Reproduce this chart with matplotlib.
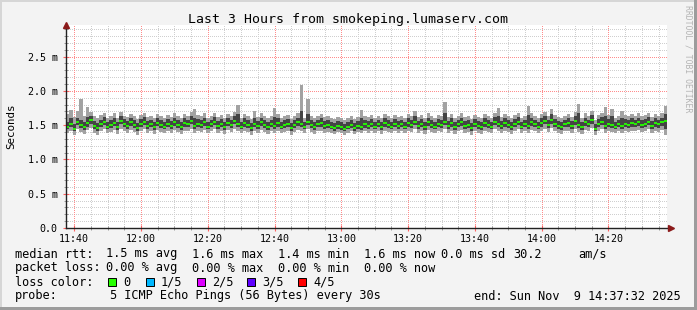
import numpy as np
import matplotlib
matplotlib.use("Agg")
import matplotlib.pyplot as plt
from matplotlib.patches import Rectangle

# ---------------- data (ms) ----------------
start_min = 37.533          # minutes after 11:00  (11:37:32)
step_min = 1.0              # one sample per minute

median_rtt = [
 1.48,1.52,1.45,1.55,1.50,1.47,1.53,1.58,1.49,1.46,
 1.51,1.55,1.48,1.50,1.53,1.47,1.56,1.52,1.49,1.54,
 1.50,1.46,1.52,1.55,1.49,1.51,1.47,1.53,1.50,1.48,
 1.52,1.49,1.54,1.50,1.47,1.53,1.51,1.56,1.49,1.52,
 1.50,1.54,1.48,1.51,1.55,1.49,1.52,1.47,1.53,1.50,
 1.56,1.51,1.48,1.53,1.50,1.46,1.52,1.49,1.54,1.50,
 1.47,1.51,1.49,1.53,1.48,1.50,1.52,1.46,1.50,1.54,
 1.52,1.48,1.55,1.50,1.47,1.51,1.53,1.49,1.50,1.48,
 1.46,1.49,1.47,1.45,1.48,1.50,1.46,1.49,1.47,1.51,
 1.49,1.52,1.48,1.51,1.47,1.53,1.50,1.48,1.52,1.49,
 1.51,1.48,1.53,1.50,1.55,1.49,1.52,1.47,1.54,1.50,
 1.48,1.52,1.50,1.55,1.49,1.53,1.47,1.51,1.54,1.49,
 1.50,1.46,1.52,1.49,1.47,1.53,1.50,1.48,1.55,1.51,
 1.49,1.53,1.50,1.47,1.52,1.55,1.48,1.51,1.49,1.54,
 1.51,1.48,1.53,1.56,1.50,1.58,1.52,1.49,1.47,1.51,
 1.53,1.49,1.56,1.50,1.47,1.54,1.51,1.58,1.45,1.52,
 1.55,1.49,1.52,1.50,1.48,1.51,1.49,1.52,1.50,1.53,
 1.51,1.54,1.50,1.52,1.55,1.49,1.53,1.51,1.54,1.56]

ping_max = [
 1.66,1.72,1.62,1.70,1.88,1.64,1.76,1.69,1.63,1.60,
 1.65,1.68,1.61,1.63,1.67,1.60,1.69,1.64,1.62,1.66,
 1.63,1.59,1.65,1.68,1.62,1.64,1.60,1.66,1.63,1.61,
 1.65,1.62,1.67,1.63,1.60,1.66,1.64,1.69,1.73,1.65,
 1.63,1.67,1.61,1.64,1.68,1.62,1.65,1.60,1.66,1.63,
 1.69,1.79,1.61,1.66,1.63,1.59,1.70,1.62,1.67,1.63,
 1.60,1.64,1.75,1.66,1.61,1.63,1.65,1.59,1.63,1.67,
 2.08,1.61,1.88,1.63,1.60,1.64,1.66,1.62,1.63,1.61,
 1.59,1.62,1.60,1.58,1.61,1.63,1.59,1.62,1.72,1.64,
 1.62,1.65,1.61,1.64,1.60,1.66,1.63,1.61,1.65,1.62,
 1.64,1.61,1.66,1.63,1.71,1.62,1.65,1.60,1.67,1.63,
 1.61,1.65,1.63,1.84,1.62,1.66,1.60,1.64,1.67,1.62,
 1.63,1.59,1.65,1.62,1.60,1.66,1.63,1.61,1.68,1.75,
 1.62,1.66,1.63,1.60,1.65,1.68,1.61,1.64,1.78,1.67,
 1.64,1.61,1.66,1.69,1.63,1.74,1.65,1.62,1.60,1.64,
 1.66,1.62,1.69,1.81,1.60,1.67,1.64,1.71,1.58,1.65,
 1.68,1.76,1.65,1.73,1.61,1.64,1.70,1.65,1.63,1.66,
 1.64,1.67,1.63,1.65,1.68,1.62,1.66,1.64,1.67,1.78]

ping_min = [
 1.38,1.42,1.35,1.44,1.40,1.37,1.43,1.46,1.39,1.36,
 1.41,1.44,1.38,1.40,1.43,1.37,1.45,1.42,1.39,1.43,
 1.40,1.36,1.42,1.44,1.39,1.41,1.37,1.43,1.40,1.38,
 1.42,1.39,1.43,1.40,1.37,1.42,1.41,1.45,1.39,1.41,
 1.40,1.43,1.38,1.41,1.44,1.39,1.42,1.37,1.43,1.40,
 1.44,1.41,1.38,1.42,1.40,1.36,1.42,1.39,1.43,1.40,
 1.37,1.41,1.39,1.42,1.38,1.40,1.42,1.36,1.40,1.43,
 1.42,1.38,1.44,1.40,1.37,1.41,1.42,1.39,1.40,1.38,
 1.37,1.40,1.38,1.36,1.39,1.41,1.37,1.40,1.38,1.41,
 1.39,1.42,1.38,1.41,1.37,1.42,1.40,1.38,1.42,1.39,
 1.41,1.38,1.42,1.40,1.44,1.39,1.42,1.37,1.43,1.40,
 1.38,1.42,1.40,1.44,1.39,1.42,1.37,1.41,1.43,1.39,
 1.40,1.36,1.42,1.39,1.37,1.42,1.40,1.38,1.44,1.41,
 1.39,1.42,1.40,1.37,1.41,1.44,1.38,1.41,1.39,1.43,
 1.41,1.38,1.42,1.45,1.40,1.46,1.41,1.39,1.37,1.41,
 1.42,1.39,1.44,1.40,1.37,1.43,1.41,1.46,1.35,1.41,
 1.44,1.39,1.41,1.40,1.38,1.41,1.39,1.42,1.40,1.42,
 1.41,1.43,1.40,1.41,1.44,1.39,1.42,1.40,1.43,1.35]

ping_lo = [
 1.44,1.47,1.41,1.50,1.46,1.43,1.48,1.52,1.45,1.42,
 1.47,1.50,1.44,1.46,1.49,1.43,1.51,1.48,1.45,1.49,
 1.46,1.42,1.48,1.50,1.45,1.47,1.43,1.49,1.46,1.44,
 1.48,1.45,1.49,1.46,1.43,1.48,1.47,1.51,1.45,1.47,
 1.46,1.49,1.44,1.47,1.50,1.45,1.48,1.43,1.49,1.46,
 1.51,1.47,1.44,1.48,1.46,1.42,1.48,1.45,1.49,1.46,
 1.43,1.47,1.45,1.48,1.44,1.46,1.48,1.42,1.46,1.49,
 1.48,1.44,1.50,1.46,1.43,1.47,1.48,1.45,1.46,1.44,
 1.42,1.45,1.43,1.41,1.44,1.46,1.42,1.45,1.43,1.46,
 1.45,1.48,1.44,1.47,1.43,1.48,1.46,1.44,1.48,1.45,
 1.47,1.44,1.48,1.46,1.50,1.45,1.48,1.43,1.49,1.46,
 1.44,1.48,1.46,1.50,1.45,1.48,1.43,1.47,1.49,1.45,
 1.46,1.42,1.48,1.45,1.43,1.48,1.46,1.44,1.50,1.47,
 1.45,1.48,1.46,1.43,1.47,1.50,1.44,1.47,1.45,1.49,
 1.47,1.44,1.48,1.51,1.46,1.52,1.47,1.45,1.43,1.47,
 1.48,1.45,1.50,1.46,1.43,1.49,1.47,1.52,1.41,1.47,
 1.50,1.45,1.47,1.46,1.44,1.47,1.45,1.48,1.46,1.48,
 1.47,1.49,1.46,1.47,1.50,1.45,1.48,1.46,1.49,1.45]

ping_hi = [
 1.55,1.60,1.52,1.61,1.58,1.54,1.62,1.64,1.56,1.53,
 1.58,1.62,1.55,1.57,1.60,1.54,1.63,1.59,1.56,1.61,
 1.57,1.53,1.59,1.62,1.56,1.58,1.54,1.60,1.57,1.55,
 1.59,1.56,1.61,1.57,1.54,1.60,1.58,1.63,1.60,1.59,
 1.57,1.61,1.55,1.58,1.62,1.56,1.59,1.54,1.60,1.57,
 1.63,1.66,1.55,1.60,1.57,1.53,1.61,1.56,1.61,1.57,
 1.54,1.58,1.62,1.60,1.55,1.57,1.59,1.53,1.57,1.61,
 1.70,1.55,1.66,1.57,1.54,1.58,1.60,1.56,1.57,1.55,
 1.53,1.56,1.54,1.52,1.55,1.57,1.53,1.56,1.60,1.58,
 1.56,1.59,1.55,1.58,1.54,1.60,1.57,1.55,1.59,1.56,
 1.58,1.55,1.60,1.57,1.63,1.56,1.59,1.54,1.61,1.57,
 1.55,1.59,1.57,1.68,1.56,1.60,1.54,1.58,1.61,1.56,
 1.57,1.53,1.59,1.56,1.54,1.60,1.57,1.55,1.62,1.63,
 1.56,1.60,1.57,1.54,1.59,1.62,1.55,1.58,1.65,1.61,
 1.58,1.55,1.60,1.63,1.57,1.66,1.59,1.56,1.54,1.58,
 1.60,1.56,1.63,1.67,1.54,1.61,1.58,1.65,1.52,1.59,
 1.62,1.64,1.59,1.63,1.55,1.58,1.61,1.59,1.57,1.60,
 1.58,1.61,1.57,1.59,1.62,1.56,1.60,1.58,1.61,1.66]

xtick_pos = [40, 60, 80, 100, 120, 140, 160, 180, 200]
xtick_labels = ["11:40", "12:00", "12:20", "12:40", "13:00", "13:20", "13:40", "14:00", "14:20"]
ytick_pos = [0.0, 0.5, 1.0, 1.5, 2.0, 2.5]
ytick_labels = ["0.0", "0.5 m", "1.0 m", "1.5 m", "2.0 m", "2.5 m"]

loss_labels = ["0", "1/5", "2/5", "3/5", "4/5"]
loss_colors = ["#26ff00", "#00b8ff", "#dd00ff", "#5e00ff", "#ff0000"]

title = "Last 3 Hours from smokeping.lumaserv.com"
rtt_parts = ["median rtt:", "1.5 ms avg", "1.6 ms max", "1.4 ms min", "1.6 ms now",
             "0.0 ms sd", "30.2", "am/s"]
loss_parts = ["packet loss:", "0.00 % avg", "0.00 % max", "0.00 % min", "0.00 % now"]
probe_parts = ["probe:", "5 ICMP Echo Pings (56 Bytes) every 30s"]
end_text = "end: Sun Nov  9 14:37:32 2025"

# ---------------- figure ----------------
W, H = 697, 310
MONO = "DejaVu Sans Mono"
fig = plt.figure(figsize=(W / 100, H / 100), dpi=100)
fig.patch.set_facecolor("#f3f3f3")

def fx(px):
    return px / W

def fy(py):
    return 1 - py / H

# 3D border
fig.add_artist(Rectangle((0, fy(2)), 1, 2 / H, transform=fig.transFigure, color="#d6d6d6", lw=0))
fig.add_artist(Rectangle((0, 0), 2 / W, 1, transform=fig.transFigure, color="#d6d6d6", lw=0))
fig.add_artist(Rectangle((0, 0), 1, 3 / H, transform=fig.transFigure, color="#9c9c9c", lw=0))
fig.add_artist(Rectangle((fx(694), 0), 3 / W, 1, transform=fig.transFigure, color="#9c9c9c", lw=0))

ax_l, ax_r, ax_t, ax_b = 66, 667, 25, 228
ax = fig.add_axes([fx(ax_l), fy(ax_b), fx(ax_r - ax_l), (ax_b - ax_t) / H])
ax.set_facecolor("white")

n = len(median_rtt)
edges = start_min + step_min * np.arange(n + 1)
ax.set_xlim(edges[0], edges[-1])
ax.set_ylim(0, 2.96)

# grid (dotted, crisp)
DOT = (0, (1, 2))
minor_x = np.arange(40, 218, 5)
for xv in minor_x:
    major = (xv % 20 == 0)
    ax.axvline(xv, color="#ff8c8c" if major else "#cfcfcf", lw=0.72, ls=DOT,
               antialiased=False, zorder=0.5 if major else 0.4)
minor_y = np.arange(0.1, 2.95, 0.1)
for yv in minor_y:
    major = abs(yv / 0.5 - round(yv / 0.5)) < 1e-6
    ax.axhline(yv, color="#ff8c8c" if major else "#cfcfcf", lw=0.72, ls=DOT,
               antialiased=False, zorder=0.5 if major else 0.4)

# smoke
ax.stairs(ping_max, edges, baseline=ping_min, fill=True, color="#a2a2a2", lw=0, zorder=2)
ax.stairs(ping_hi, edges, baseline=ping_lo, fill=True, color="#444444", lw=0, zorder=3)
# median (loss colour)
ax.hlines(median_rtt, edges[:-1], edges[1:], colors=loss_colors[0], lw=1.3, zorder=4)

# axes
for s in ["top", "right"]:
    ax.spines[s].set_visible(False)
for s in ["left", "bottom"]:
    ax.spines[s].set_color("#222222")
    ax.spines[s].set_linewidth(1.0)
    ax.spines[s].set_zorder(6)

ax.set_xticks(xtick_pos)
ax.set_xticklabels(xtick_labels)
ax.set_xticks(minor_x, minor=True)
ax.set_yticks(ytick_pos)
ax.set_yticklabels(ytick_labels)
ax.set_yticks(minor_y, minor=True)
ax.tick_params(axis="both", which="major", direction="inout", length=4, width=0.8,
               color="#ff6060", labelsize=7.2, labelfontfamily=MONO)
ax.tick_params(axis="both", which="minor", direction="inout", length=2.5, width=0.7,
               color="#999999")
ax.tick_params(axis="x", pad=2)
ax.tick_params(axis="y", pad=4)

# arrows
ax.plot([0], [1.0], marker="^", color="#8b1a1a", ms=4.5, transform=ax.transAxes,
        clip_on=False, zorder=7)
ax.plot([1.006], [0.0], marker=">", color="#8b1a1a", ms=4.5, transform=ax.transAxes,
        clip_on=False, zorder=7)

ax.set_ylabel("Seconds", family=MONO, fontsize=7.8)
ax.yaxis.set_label_coords(-(ax_l - 16) / (ax_r - ax_l), 0.5)

# title
fig.text(fx(348), fy(19), title, ha="center", va="center", family=MONO, fontsize=9.5)

# right vertical credit
fig.text(fx(688), fy(59), "RRDTOOL / TOBI OETIKER", rotation=270, ha="center", va="center",
         family=MONO, fontsize=5.9, color="#b4b4b4")

# legend
LFS = 8.55
row_y = [254, 268, 282, 296]

def ltxt(x, y, s, ha="left"):
    fig.text(fx(x), fy(y), s, ha=ha, va="center", family=MONO, fontsize=LFS)

rtt_x = [15, 106, 192, 278, 364, 441, 513, 578]
for s, x in zip(rtt_parts, rtt_x):
    ltxt(x, row_y[0], s)
loss_x = [15, 106, 192, 278, 364]
for s, x in zip(loss_parts, loss_x):
    ltxt(x, row_y[1], s)
ltxt(15, row_y[2], "loss color:")
sq_x = [108, 146, 197, 247, 298]
for lbl, col, sx in zip(loss_labels, loss_colors, sq_x):
    fig.add_artist(Rectangle((fx(sx), fy(row_y[2] + 4)), 8 / W, 8 / H, transform=fig.transFigure,
                             facecolor=col, edgecolor="black", lw=0.7))
    ltxt(sx + 15, row_y[2], lbl)
probe_x = [15, 110]
for s, x in zip(probe_parts, probe_x):
    ltxt(x, row_y[3], s)
ltxt(681, row_y[3], end_text, ha="right")

fig.savefig("out.png", dpi=100, facecolor=fig.get_facecolor())
